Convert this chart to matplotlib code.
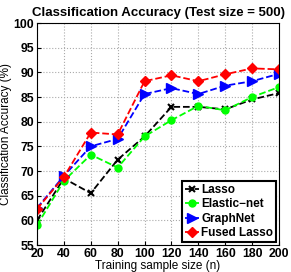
import matplotlib
matplotlib.use("Agg")
import matplotlib.pyplot as plt

n = [20, 40, 60, 80, 100, 120, 140, 160, 180, 200]
lasso = [60.0, 68.5, 65.5, 72.3, 77.0, 83.0, 83.0, 82.5, 84.5, 85.8]
enet = [59.0, 68.0, 73.3, 70.7, 77.0, 80.3, 83.2, 82.3, 85.0, 87.0]
graphnet = [62.5, 69.0, 75.0, 76.5, 85.6, 86.8, 85.6, 87.3, 88.2, 89.7]
fused = [62.3, 68.8, 77.8, 77.4, 88.2, 89.4, 88.2, 89.6, 90.8, 90.6]

plt.rcParams['font.family'] = ['Liberation Sans', 'DejaVu Sans']

fig = plt.figure(figsize=(2.91, 2.72), dpi=100)
ax = fig.add_axes([37/291, 1-245/272, 242/291, 222/272])

ax.plot(n, lasso, '--', color='black', marker='x', ms=4, mew=1.5, lw=1.3, label='Lasso')
ax.plot(n, enet, '--', color='#00ff00', marker='o', ms=5, lw=1.3, label='Elastic\u2212net')
ax.plot(n, graphnet, '--', color='#0000ff', marker='>', ms=7, lw=1.3, label='GraphNet')
ax.plot(n, fused, '--', color='#ff0000', marker='D', ms=5.5, lw=1.3, label='Fused Lasso')

ax.set_xlim(20, 200)
ax.set_ylim(55, 100)
ax.set_xticks(n)
ax.set_yticks(range(55, 101, 5))
ax.grid(True, linestyle=':', color='#aaaaaa', lw=0.8)
ax.tick_params(direction='in', length=3, labelsize=8.8)
ax.tick_params(axis='x', pad=2.5)
ax.tick_params(axis='y', pad=2)
for lbl in ax.get_xticklabels() + ax.get_yticklabels():
    lbl.set_fontweight('bold')
for s in ax.spines.values():
    s.set_linewidth(0.8)

ax.set_title('Classification Accuracy (Test size = 500)', fontsize=9.5, fontweight='bold', pad=5)
ax.set_xlabel('Training sample size (n)', fontsize=8.5, labelpad=-0.5)
ax.set_ylabel('Classification Accuracy (%)', fontsize=8.5, labelpad=1)

leg = ax.legend(loc='lower right', prop={'weight': 'bold', 'size': 8.5}, handlelength=1.2,
                handletextpad=0.15, borderpad=0.25, labelspacing=0.2, fancybox=False,
                framealpha=1, borderaxespad=0.25)
leg.get_frame().set_edgecolor('black')
leg.get_frame().set_linewidth(1.5)

fig.savefig('out.png', dpi=100)
